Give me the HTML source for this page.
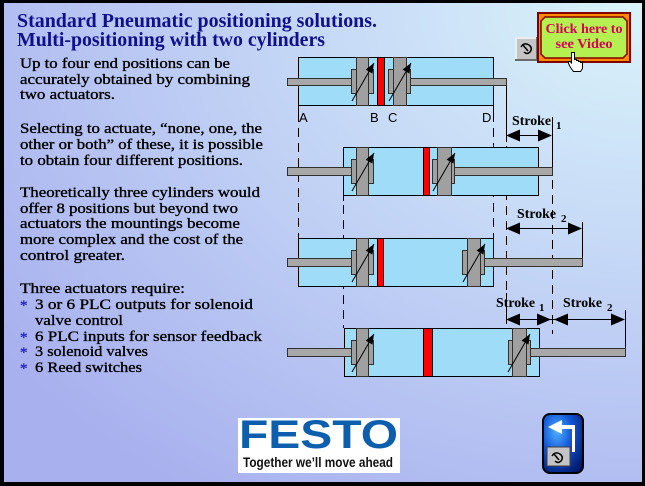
<!DOCTYPE html>
<html><head><meta charset="utf-8"><style>
html,body{margin:0;padding:0;background:#000;}
svg{display:block;}
.b{font-family:"Liberation Serif",serif;font-size:15px;fill:#000;stroke:#000;stroke-width:0.35;}
.t{font-family:"Liberation Serif",serif;font-size:20px;font-weight:bold;fill:#10108c;}
.s{font-family:"Liberation Serif",serif;font-size:14px;font-weight:bold;fill:#000;}
.sub{font-family:"Liberation Serif",serif;font-size:11px;font-weight:bold;fill:#000;}
.l{font-family:"Liberation Sans",sans-serif;font-size:13px;fill:#000;}
.body{fill:#9edcf8;stroke:#000;stroke-width:1;}
.rod{fill:#a8a8a8;stroke:#303030;stroke-width:1;}
.pis{fill:#a0a0a0;stroke:#303030;stroke-width:1;}
.red{fill:#ff0000;stroke:#000;stroke-width:1;}
.dl{stroke:#000;stroke-width:1;stroke-dasharray:9,6;fill:none;}
.sl{stroke:#000;stroke-width:1;fill:none;}
.ad{stroke:#000;stroke-width:1;fill:none;marker-end:url(#ah);}
</style></head><body>
<svg width="645" height="486" viewBox="0 0 645 486" xmlns="http://www.w3.org/2000/svg">
<defs>
<radialGradient id="bg" cx="1" cy="0" r="1.25" gradientUnits="objectBoundingBox">
<stop offset="0" stop-color="#daf4fa"/>
<stop offset="0.45" stop-color="#c4d6f6"/>
<stop offset="1" stop-color="#a8b0ee"/>
</radialGradient>
<radialGradient id="bb" cx="0.35" cy="0.3" r="0.8">
<stop offset="0" stop-color="#50b0ff"/>
<stop offset="0.45" stop-color="#1458d8"/>
<stop offset="1" stop-color="#001a70"/>
</radialGradient>
<marker id="ah" viewBox="0 0 10 8" refX="10" refY="4" markerWidth="10" markerHeight="8" orient="auto" markerUnits="userSpaceOnUse">
<path d="M0,0 L10,4 L0,8 z" fill="#000"/>
</marker>
</defs>
<rect x="0" y="0" width="645" height="486" fill="#000"/>
<rect x="4" y="3" width="638" height="479" fill="url(#bg)"/>

<!-- Title -->
<text class="t" x="17" y="27" textLength="360" lengthAdjust="spacingAndGlyphs">Standard Pneumatic positioning solutions.</text>
<text class="t" x="17" y="46" textLength="308" lengthAdjust="spacingAndGlyphs">Multi-positioning with two cylinders</text>

<!-- Body text -->
<text class="b" x="20" y="68" textLength="210" lengthAdjust="spacingAndGlyphs">Up to four end positions can be</text>
<text class="b" x="20" y="84" textLength="230" lengthAdjust="spacingAndGlyphs">accurately obtained by combining</text>
<text class="b" x="20" y="99" textLength="95" lengthAdjust="spacingAndGlyphs">two actuators.</text>

<text class="b" x="20" y="133" textLength="242" lengthAdjust="spacingAndGlyphs">Selecting to actuate, “none, one, the</text>
<text class="b" x="20" y="149" textLength="243" lengthAdjust="spacingAndGlyphs">other or both” of these, it is possible</text>
<text class="b" x="20" y="165" textLength="223" lengthAdjust="spacingAndGlyphs">to obtain four different positions.</text>

<text class="b" x="20" y="197" textLength="240" lengthAdjust="spacingAndGlyphs">Theoretically three cylinders would</text>
<text class="b" x="20" y="213" textLength="218" lengthAdjust="spacingAndGlyphs">offer 8 positions but beyond two</text>
<text class="b" x="20" y="228" textLength="220" lengthAdjust="spacingAndGlyphs">actuators the mountings become</text>
<text class="b" x="20" y="244" textLength="223" lengthAdjust="spacingAndGlyphs">more complex and the cost of the</text>
<text class="b" x="20" y="260" textLength="105" lengthAdjust="spacingAndGlyphs">control greater.</text>

<text class="b" x="20" y="293" textLength="165" lengthAdjust="spacingAndGlyphs">Three actuators require:</text>
<text class="b" x="20" y="310" style="fill:#2828c8;stroke:#2828c8">*</text>
<text class="b" x="35" y="309" textLength="218" lengthAdjust="spacingAndGlyphs">3 or 6  PLC outputs for solenoid</text>
<text class="b" x="35" y="325" textLength="88" lengthAdjust="spacingAndGlyphs">valve control</text>
<text class="b" x="20" y="342" style="fill:#2828c8;stroke:#2828c8">*</text>
<text class="b" x="35" y="341" textLength="227" lengthAdjust="spacingAndGlyphs">6 PLC inputs for sensor feedback</text>
<text class="b" x="20" y="357" style="fill:#2828c8;stroke:#2828c8">*</text>
<text class="b" x="35" y="356" textLength="113" lengthAdjust="spacingAndGlyphs">3 solenoid valves</text>
<text class="b" x="20" y="373" style="fill:#2828c8;stroke:#2828c8">*</text>
<text class="b" x="35" y="372" textLength="107" lengthAdjust="spacingAndGlyphs">6 Reed switches</text>

<!-- Dimension / dashed lines -->
<line class="sl" x1="298.5" y1="105" x2="298.5" y2="113"/>
<line class="dl" x1="298.5" y1="113" x2="298.5" y2="238"/>
<line class="sl" x1="493.5" y1="105" x2="493.5" y2="113"/>
<line class="dl" x1="493.5" y1="113" x2="493.5" y2="238"/>
<line class="sl" x1="506.5" y1="85" x2="506.5" y2="142"/>
<line class="dl" x1="506.5" y1="146" x2="506.5" y2="292"/>
<line class="sl" x1="506.5" y1="293" x2="506.5" y2="324"/>
<line class="sl" x1="552.5" y1="117" x2="552.5" y2="168"/>
<line class="dl" x1="552.5" y1="180" x2="552.5" y2="334"/>
<line class="sl" x1="343.5" y1="195" x2="343.5" y2="201"/>
<line class="dl" x1="343.5" y1="205" x2="343.5" y2="328"/>
<line class="sl" x1="582.5" y1="222" x2="582.5" y2="259"/>
<line class="sl" x1="625.5" y1="310" x2="625.5" y2="349"/>

<!-- Stroke arrows -->
<line class="sl" x1="510" y1="135.5" x2="548" y2="135.5"/>
<polygon points="506,135.5 520,129.5 520,141.5" fill="#000"/>
<polygon points="552,135.5 538,129.5 538,141.5" fill="#000"/>
<line class="sl" x1="510" y1="228.5" x2="578" y2="228.5"/>
<polygon points="506,228.5 520,222.5 520,234.5" fill="#000"/>
<polygon points="582,228.5 568,222.5 568,234.5" fill="#000"/>
<line class="sl" x1="510" y1="319.5" x2="621" y2="319.5"/>
<polygon points="506,319.5 520,313.5 520,325.5" fill="#000"/>
<polygon points="551,319.5 537,313.5 537,325.5" fill="#000"/>
<polygon points="554,319.5 568,313.5 568,325.5" fill="#000"/>
<polygon points="625,319.5 611,313.5 611,325.5" fill="#000"/>

<text class="s" x="512" y="125" textLength="39" lengthAdjust="spacingAndGlyphs">Stroke</text>
<text class="sub" x="556" y="129">1</text>
<text class="s" x="517" y="218" textLength="39" lengthAdjust="spacingAndGlyphs">Stroke</text>
<text class="sub" x="561" y="222">2</text>
<text class="s" x="496" y="307" textLength="39" lengthAdjust="spacingAndGlyphs">Stroke</text>
<text class="sub" x="539" y="311">1</text>
<text class="s" x="563" y="307" textLength="39" lengthAdjust="spacingAndGlyphs">Stroke</text>
<text class="sub" x="607" y="311">2</text>

<text class="l" x="299" y="122">A</text>
<text class="l" x="370" y="122">B</text>
<text class="l" x="388" y="122">C</text>
<text class="l" x="482" y="122">D</text>

<!-- Cylinder 1 -->
<rect class="body" x="298.5" y="57.5" width="195" height="48"/>
<rect class="rod" x="287.5" y="78.5" width="70" height="7"/>
<rect class="rod" x="400.5" y="78.5" width="106" height="7"/>
<rect class="pis" x="351.5" y="69.5" width="22" height="24"/>
<rect class="pis" x="356.5" y="57.5" width="12" height="48"/>
<line class="ad" x1="352" y1="101" x2="374" y2="63"/>
<rect class="red" x="377.5" y="57.5" width="7" height="48"/>
<rect class="pis" x="388.5" y="69.5" width="22" height="24"/>
<rect class="pis" x="393.5" y="57.5" width="13" height="48"/>
<line class="ad" x1="389" y1="101" x2="411" y2="63"/>

<!-- Cylinder 2 -->
<rect class="body" x="343.5" y="147.5" width="195" height="48"/>
<rect class="rod" x="287.5" y="167.5" width="70" height="8"/>
<rect class="rod" x="445.5" y="167.5" width="107" height="8"/>
<rect class="pis" x="351.5" y="159.5" width="22" height="24"/>
<rect class="pis" x="356.5" y="147.5" width="12" height="48"/>
<line class="ad" x1="352" y1="191" x2="374" y2="153"/>
<rect class="red" x="423.5" y="147.5" width="6" height="48"/>
<rect class="pis" x="432.5" y="159.5" width="22" height="24"/>
<rect class="pis" x="437.5" y="147.5" width="14" height="48"/>
<line class="ad" x1="433" y1="191" x2="455" y2="153"/>

<!-- Cylinder 3 -->
<rect class="body" x="298.5" y="238.5" width="195" height="48"/>
<rect class="rod" x="287.5" y="258.5" width="70" height="8"/>
<rect class="rod" x="475.5" y="258.5" width="107" height="8"/>
<rect class="pis" x="351.5" y="250.5" width="22" height="24"/>
<rect class="pis" x="356.5" y="238.5" width="12" height="48"/>
<line class="ad" x1="352" y1="282" x2="374" y2="244"/>
<rect class="red" x="377.5" y="238.5" width="6" height="48"/>
<rect class="pis" x="462.5" y="250.5" width="22" height="24"/>
<rect class="pis" x="467.5" y="238.5" width="13" height="48"/>
<line class="ad" x1="463" y1="282" x2="485" y2="244"/>

<!-- Cylinder 4 -->
<rect class="body" x="344.5" y="328.5" width="195" height="48"/>
<rect class="rod" x="287.5" y="348.5" width="70" height="8"/>
<rect class="rod" x="520.5" y="348.5" width="105" height="8"/>
<rect class="pis" x="351.5" y="340.5" width="22" height="24"/>
<rect class="pis" x="356.5" y="328.5" width="12" height="48"/>
<line class="ad" x1="352" y1="372" x2="374" y2="334"/>
<rect class="red" x="423.5" y="328.5" width="9" height="48"/>
<rect class="pis" x="508.5" y="340.5" width="22" height="24"/>
<rect class="pis" x="512.5" y="328.5" width="14" height="48"/>
<line class="ad" x1="508" y1="372" x2="530" y2="334"/>

<!-- Small grey button near video -->
<rect x="515" y="37" width="23" height="24" fill="#6a6a6a"/>
<rect x="515" y="37" width="21" height="22" fill="#ececec"/>
<rect x="517" y="39" width="19" height="20" fill="#c4c4c4"/>
<path d="M521,47 q3,-5 8,-2 q4,3 1,7 q-3,3 -6,0 M523,45 l5,6" stroke="#000" stroke-width="1.5" fill="none"/>

<!-- Video button -->
<rect x="537" y="12" width="94" height="51" fill="#800000"/>
<rect x="539" y="14" width="90" height="47" fill="#ff8a00"/>
<polygon points="545,17 623,17 627,21 627,54 623,58 545,58 541,54 541,21" fill="#b4f050" stroke="#800000" stroke-width="1.5"/>
<text x="584" y="33" text-anchor="middle" font-family="Liberation Serif, serif" font-size="14" font-weight="bold" fill="#d8005a" textLength="77" lengthAdjust="spacingAndGlyphs">Click here to</text>
<text x="584" y="48" text-anchor="middle" font-family="Liberation Serif, serif" font-size="14" font-weight="bold" fill="#d8005a" textLength="57" lengthAdjust="spacingAndGlyphs">see Video</text>
<!-- hand cursor -->
<path d="M571.5,52.5 h3 v7 h2 v1 h2 v1 h2 v1 h2 v6 l-2,3 h-7 l-3,-4 l-2,-4 v-2 h2 l1,2 z" fill="#fff" stroke="#000" stroke-width="1"/>

<!-- FESTO logo -->
<rect x="238" y="418" width="162" height="55" fill="#fff"/>
<text x="239" y="448" font-family="Liberation Sans, sans-serif" font-size="40" font-weight="bold" fill="#0d5fae" textLength="159" lengthAdjust="spacingAndGlyphs">FESTO</text>
<text x="243" y="467" font-family="Liberation Sans Narrow, Liberation Sans, sans-serif" font-size="14" font-weight="bold" fill="#111" textLength="150" lengthAdjust="spacingAndGlyphs">Together we’ll move ahead</text>

<!-- Back button -->
<rect x="543" y="414" width="40" height="59" rx="7" fill="url(#bb)" stroke="#000" stroke-width="2"/>
<polygon points="548,427 562,420 562,434" fill="#fff"/>
<rect x="560" y="425" width="14" height="4" fill="#fff"/>
<rect x="572" y="425" width="3" height="27" fill="#fff"/>
<rect x="547" y="447" width="23" height="19" fill="#c4c4c4" stroke="#404040" stroke-width="1"/>
<path d="M552,456 q3,-5 8,-2 q4,3 1,7 q-3,3 -6,0 M554,454 l5,6" stroke="#000" stroke-width="1.5" fill="none"/>
</svg>
</body></html>
